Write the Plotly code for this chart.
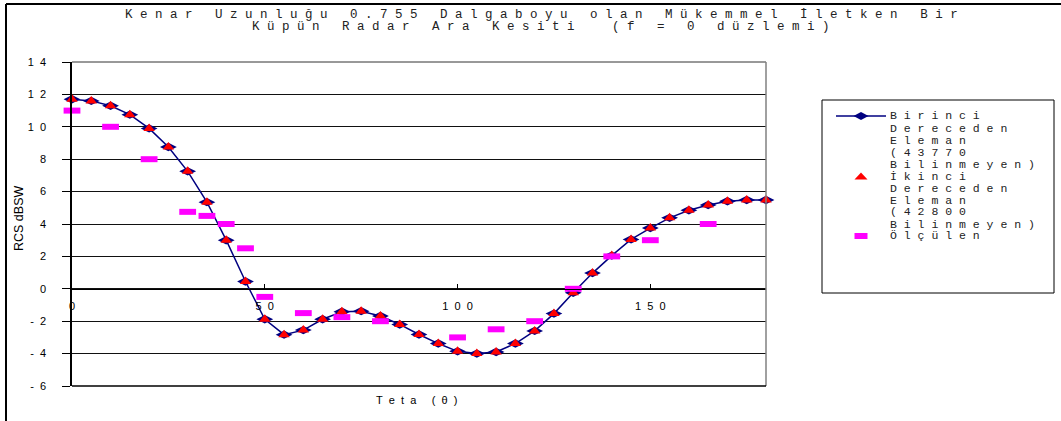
import plotly.graph_objects as go

# ---------------- data ----------------
theta = [0, 5, 10, 15, 20, 25, 30, 35, 40, 45, 50, 55, 60, 65, 70, 75, 80, 85, 90,
         95, 100, 105, 110, 115, 120, 125, 130, 135, 140, 145, 150, 155, 160, 165,
         170, 175, 180]
birinci = [11.7, 11.6, 11.3, 10.75, 9.9, 8.75, 7.25, 5.35, 3.0, 0.45, -1.88, -2.83,
           -2.55, -1.88, -1.42, -1.38, -1.68, -2.2, -2.82, -3.38, -3.86, -4.0, -3.9,
           -3.38, -2.6, -1.53, -0.25, 0.97, 2.05, 3.05, 3.75, 4.38, 4.85, 5.17, 5.4,
           5.48, 5.48]
ikinci = [11.7, 11.6, 11.3, 10.75, 9.9, 8.75, 7.25, 5.35, 3.0, 0.45, -1.88, -2.83,
          -2.55, -1.88, -1.42, -1.38, -1.68, -2.2, -2.82, -3.38, -3.86, -4.0, -3.9,
          -3.38, -2.6, -1.53, -0.25, 0.97, 2.05, 3.05, 3.75, 4.38, 4.85, 5.17, 5.4,
          5.48, 5.48]
olculen_theta = [0, 10, 20, 30, 35, 40, 45, 50, 60, 70, 80, 100, 110, 120, 130, 140, 150, 165]
olculen = [11.0, 10.0, 8.0, 4.75, 4.5, 4.0, 2.5, -0.5, -1.5, -1.75, -2.0, -3.0, -2.5,
           -2.0, 0.0, 2.0, 3.0, 4.0]
x_ticks = [0, 50, 100, 150]
y_ticks = [-6, -4, -2, 0, 2, 4, 6, 8, 10, 12, 14]

title_lines = ["Kenar Uzunluğu 0.755 Dalgaboyu olan Mükemmel İletken Bir",
               "Küpün Radar Ara Kesiti  (f = 0 düzlemi)"]
legend_lines = [
    ["Birinci", "Dereceden", "Eleman", "(43770", "Bilinmeyen)"],
    ["İkinci", "Dereceden", "Eleman", "(42800", "Bilinmeyen)"],
    ["Ölçülen"],
]
x_title = "Teta (θ)"
y_title = "RCS dBSW"

# ---------------- layout helpers ----------------
W, H = 1061, 421
L, R, T, B = 72, 766, 62, 386
NB = "\u00a0"


def px(xp):
    return (xp - L) / (R - L)


def py(yp):
    return (B - yp) / (B - T)


def spaced(s, n=1):
    return (NB * n).join(s.replace(" ", NB))


NAVY = "#000080"
RED = "#FF0000"
PINK = "#FF00FF"

fig = go.Figure()
fig.add_trace(go.Scatter(x=theta, y=birinci, mode="lines+markers",
                         line=dict(color=NAVY, width=1.5),
                         marker=dict(symbol="diamond-wide", size=12, color=NAVY),
                         cliponaxis=False, showlegend=False))
fig.add_trace(go.Scatter(x=theta, y=ikinci, mode="markers",
                         marker=dict(symbol="triangle-up", size=10, color=RED),
                         cliponaxis=False, showlegend=False))
fig.add_trace(go.Scatter(x=olculen_theta, y=olculen, mode="markers",
                         marker=dict(symbol="line-ew", size=12,
                                     line=dict(width=6, color=PINK)),
                         cliponaxis=False, showlegend=False))

axis_font = dict(family="Liberation Sans, Arial", size=11, color="black")
mono = "Liberation Mono, Courier New, monospace"

shapes = [
    # plot area top, right and bottom borders
    dict(type="line", xref="paper", yref="paper", x0=0, x1=1, y0=1, y1=1,
         line=dict(color="#333333", width=1), layer="below"),
    dict(type="line", xref="paper", yref="paper", x0=1, x1=1, y0=0, y1=1,
         line=dict(color="#808080", width=1.5)),
    dict(type="line", xref="paper", yref="paper", x0=0, x1=1, y0=0, y1=0,
         line=dict(color="black", width=1.5)),
    # outer chart border (left/top)
    dict(type="line", xref="paper", yref="paper", x0=px(6), x1=px(6), y0=py(421), y1=py(4),
         line=dict(color="black", width=2)),
    dict(type="line", xref="paper", yref="paper", x0=px(6), x1=px(1061), y0=py(4), y1=py(4),
         line=dict(color="black", width=2)),
    # legend box
    dict(type="rect", xref="paper", yref="paper", x0=px(822), x1=px(1054),
         y0=py(293), y1=py(100), line=dict(color="black", width=1), fillcolor="white",
         layer="below"),
]

# legend symbols
mx = 861
ly0 = 116
step = 12.0
y_first = ly0
y_second = ly0 + step * 5
y_third = ly0 + step * 10
shapes.append(dict(type="line", xref="paper", yref="paper", x0=px(836), x1=px(886),
                   y0=py(y_first), y1=py(y_first), line=dict(color=NAVY, width=1.5)))
shapes.append(dict(type="path", xref="paper", yref="paper",
                   path=f"M{px(mx-7.5)},{py(y_first)} L{px(mx)},{py(y_first-4)} "
                        f"L{px(mx+7.5)},{py(y_first)} L{px(mx)},{py(y_first+4)} Z",
                   fillcolor=NAVY, line=dict(color=NAVY, width=0)))
shapes.append(dict(type="path", xref="paper", yref="paper",
                   path=f"M{px(mx-6.5)},{py(y_second+3.5)} L{px(mx)},{py(y_second-3.5)} "
                        f"L{px(mx+6.5)},{py(y_second+3.5)} Z",
                   fillcolor=RED, line=dict(color=RED, width=0)))
shapes.append(dict(type="rect", xref="paper", yref="paper",
                   x0=px(mx-6.5), x1=px(mx+6.5), y0=py(y_third+3), y1=py(y_third-3),
                   fillcolor=PINK, line=dict(color=PINK, width=0)))

annotations = []
# title
for i, t in enumerate(title_lines):
    annotations.append(dict(text=spaced(t), xref="paper", yref="paper",
                            x=px(541), y=py(14 + 13 * i), xanchor="center", yanchor="middle",
                            showarrow=False, font=dict(family=mono, size=12.5, color="#222222")))
# legend text
k = 0
for group in legend_lines:
    for line in group:
        annotations.append(dict(text=spaced(line), xref="paper", yref="paper",
                                x=px(888), y=py(ly0 + step * k), xanchor="left",
                                yanchor="middle", showarrow=False,
                                font=dict(family=mono, size=11.5, color="#222222")))
        k += 1
# axis titles
annotations.append(dict(text=spaced(x_title, 2), xref="paper", yref="paper",
                        x=px(416), y=py(400), xanchor="center", yanchor="middle",
                        showarrow=False, font=axis_font))
annotations.append(dict(text=y_title, xref="paper", yref="paper",
                        x=px(19), y=py(219), xanchor="center", yanchor="middle",
                        textangle=-90, showarrow=False,
                        font=dict(family="Liberation Sans, Arial", size=12.5, color="black")))

fig.update_layout(
    width=W, height=H,
    margin=dict(l=L, r=W - R, t=T, b=H - B, pad=0),
    paper_bgcolor="white", plot_bgcolor="white",
    showlegend=False,
    xaxis=dict(range=[0, 180], anchor="free", position=0.3,
               tickmode="array", tickvals=x_ticks,
               ticktext=[spaced(str(v), 2) for v in x_ticks],
               ticks="inside", ticklen=5, tickcolor="black", tickwidth=1,
               showline=True, linecolor="black", linewidth=1,
               showgrid=False, zeroline=False, tickfont=axis_font,
               ticklabelstandoff=7),
    yaxis=dict(range=[-6, 14], tickmode="array", tickvals=y_ticks,
               ticktext=[spaced(str(v), 2) for v in y_ticks],
               ticks="outside", ticklen=8, tickcolor="black", tickwidth=1,
               showline=True, linecolor="black", linewidth=1.5,
               showgrid=True, gridcolor="#111111", gridwidth=1,
               zeroline=False, tickfont=axis_font, ticklabelstandoff=14),
    shapes=shapes,
    annotations=annotations,
)

fig.write_html("out.html",
               config={"displayModeBar": False},
               post_script="document.body.style.margin='0px';"
                           "document.body.style.overflow='hidden';")
